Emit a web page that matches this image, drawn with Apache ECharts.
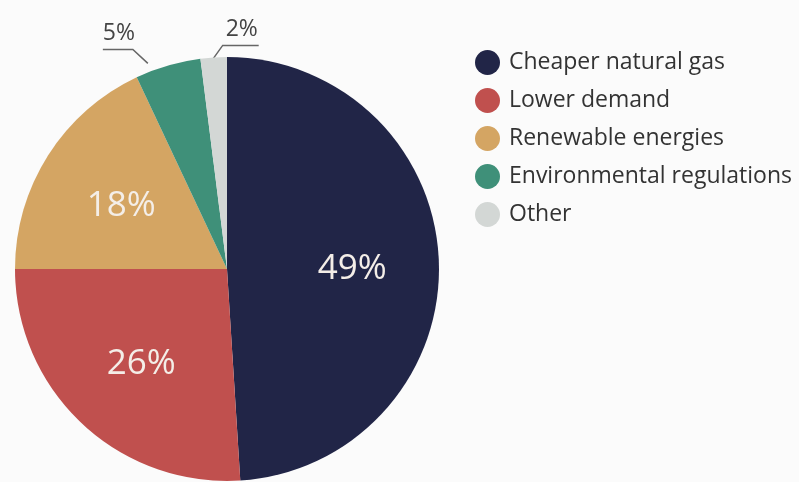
<!DOCTYPE html>
<html>
<head>
<meta charset="utf-8">
<script src="https://cdn.jsdelivr.net/npm/echarts@6/dist/echarts.min.js"></script>
<style>
  html, body { margin: 0; padding: 0; background: #fbfbfb; }
  #chart { width: 799px; height: 482px; }
</style>
</head>
<body>
<div id="chart"></div>
<script>
const causes = ['Cheaper natural gas', 'Lower demand', 'Renewable energies', 'Environmental regulations', 'Other']
const shares = [49, 26, 18, 5, 2]
const colors = ['#212547', '#c0504e', '#d4a563', '#3f9079', '#d3d7d5']

const cx = 227, cy = 269

let myChart = echarts.init(document.getElementById('chart'))
myChart.setOption({
  backgroundColor: '#fbfbfb',
  legend: {
    orient: 'vertical',
    left: 470,
    top: 45,
    icon: 'circle',
    itemWidth: 25,
    itemHeight: 25,
    itemGap: 13,
    textStyle: { color: '#333', fontSize: 23, fontFamily: 'Open Sans', padding: [0, 0, 0, 4] },
    data: causes
  },
  series: [
    {
      type: 'pie',
      center: [cx, cy],
      radius: 212,
      startAngle: 90,
      clockwise: true,
      silent: true,
      data: causes.map((name, i) => {
        const small = shares[i] < 10
        return {
          name: name,
          value: shares[i],
          itemStyle: { color: colors[i] },
          label: small
            ? { position: 'outside', color: '#444', fontSize: 23, fontFamily: 'Open Sans' }
            : { position: 'inside', color: '#f4eee8', fontSize: 35, fontFamily: 'Open Sans' },
          labelLine: small
            ? { show: true, lineStyle: { color: '#666', width: 1.5 } }
            : { show: false }
        }
      }),
      label: { formatter: '{c}%' },
      labelLayout: function (params) {
        const r = params.labelRect
        if (shares[params.dataIndex] >= 10) {
          // push inner labels a bit further out from the centre
          const lx = r.x + r.width / 2 - cx
          const ly = r.y + r.height / 2 - cy
          return { dx: lx * 0.15, dy: ly * 0.15 + 4 }
        }
        const p0 = params.labelLinePoints[0]
        if (params.dataIndex === 3) {
          const a = [p0[0] - 20, p0[1] - 2]
          const b = [a[0] - 15, a[1] - 14]
          const c = [b[0] - 30, b[1]]
          return { labelLinePoints: [a, b, c], x: c[0], y: c[1] - 4, align: 'left', verticalAlign: 'bottom' }
        }
        const a = [p0[0] - 1, p0[1] + 2]
        const b = [a[0] + 10, a[1] - 14]
        const c = [b[0] + 36, b[1]]
        return { labelLinePoints: [a, b, c], x: b[0] + 3, y: b[1] - 4, align: 'left', verticalAlign: 'bottom' }
      }
    }
  ]
})
</script>
</body>
</html>
